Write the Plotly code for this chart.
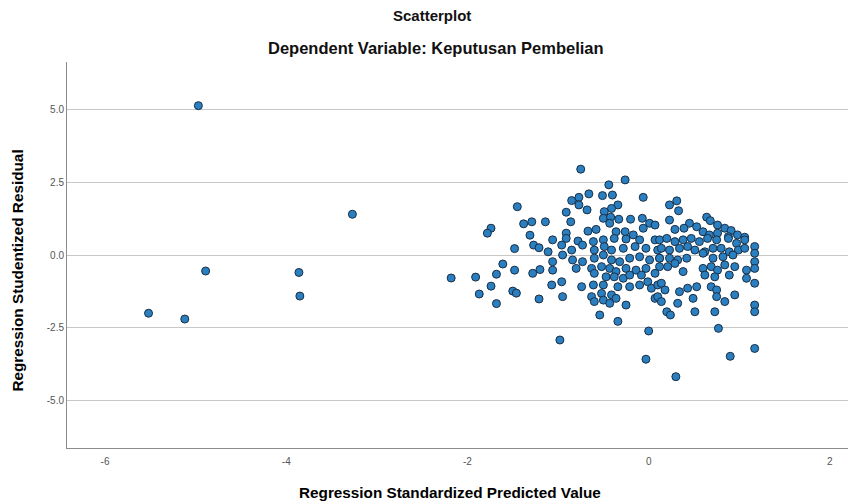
import plotly.graph_objects as go

# Outlying cases (Regression Standardized Predicted Value, Regression Studentized Residual)
outlier_pred = [-4.97, -3.27, -4.89, -3.86, -3.85, -5.52, -5.12]
outlier_resid = [5.13, 1.40, -0.55, -0.60, -1.41, -2.00, -2.20]

# Left tail of the main cloud
left_pred = [-1.45, -1.74, -1.78, -1.38, -1.29, -1.31, -1.48, -1.27, -1.21, -1.61, -2.18,
             -1.91, -1.68, -1.48, -1.28, -1.20, -1.87, -1.74, -1.68, -1.50, -1.46, -1.21]
left_resid = [1.66, 0.92, 0.75, 1.07, 1.14, 0.68, 0.22, 0.34, 0.25, -0.31, -0.79,
              -0.76, -0.66, -0.52, -0.63, -0.50, -1.34, -1.07, -1.67, -1.24, -1.31, -1.51]

# Upper part of the main cloud
upper_pred = [-0.75, -0.26, -0.44, -0.06, -0.66, -0.51, -0.40, -0.77, -0.85, -0.77, -0.91,
              -0.68, -0.86, -1.14, -0.34, -0.41, -0.49, -0.50, -0.42, -0.43, -0.33, -0.20,
              -0.07, 0.01, 0.07, -0.67, -0.58, -0.91, -0.36, -0.26, -0.17, -0.06,
              0.23, 0.31, 0.33, 0.23, 0.64, 0.68, 0.76, 0.84, 0.91, 0.98, 0.45, 0.53,
              0.39, 0.29, 0.60, 0.67, 0.76, 0.88, 1.06]
upper_resid = [2.95, 2.58, 2.41, 1.98, 2.10, 2.04, 2.06, 1.98, 1.87, 1.72, 1.47,
               1.55, 1.14, 1.14, 1.72, 1.60, 1.49, 1.26, 1.30, 1.09, 1.23, 1.23,
               1.26, 1.09, 1.03, 0.82, 0.88, 0.75, 0.80, 0.80, 0.69, 0.92,
               1.72, 1.86, 1.52, 1.20, 1.30, 1.18, 1.03, 0.92, 0.84, 0.69, 1.09, 0.97,
               0.92, 0.88, 0.80, 0.69, 0.75, 0.63, 0.61]

# Centre of the main cloud, left half
mid_left_pred = [-1.06, -0.91, -0.78, -0.61, -0.50, -0.38, -0.25, -0.10, 0.07,
                 -1.11, -0.96, -0.85, -0.73, -0.60, -0.49, -0.41, -0.28, -0.15, -0.03, 0.10,
                 -1.06, -0.95, -0.84, -0.73, -0.60, -0.50, -0.41, -0.32, -0.21, -0.10, 0.01, 0.12,
                 -1.06, -0.80, -0.63, -0.52, -0.43, -0.36, -0.25, -0.14, -0.03, 0.07,
                 -0.60, -0.47, -0.38, -0.28, -0.21, -0.08, -0.01,
                 -1.07, -0.96, -0.74, -0.61, -0.50, -0.34, -0.21, -0.10, 0.03, 0.10,
                 -0.95, -0.63, -0.52, -0.41, -0.36,
                 -0.60, -0.50, -0.43, -0.25, 0.07, -0.54]
mid_left_resid = [0.52, 0.57, 0.48, 0.46, 0.52, 0.57, 0.55, 0.52, 0.52,
                  0.11, 0.34, 0.17, 0.34, 0.17, 0.29, 0.17, 0.23, 0.29, 0.23, 0.17,
                  -0.23, 0.00, -0.17, -0.23, -0.11, 0.00, -0.17, -0.23, -0.11, -0.06, -0.17, -0.11,
                  -0.52, -0.46, -0.46, -0.40, -0.46, -0.57, -0.46, -0.52, -0.46, -0.63,
                  -0.63, -0.75, -0.75, -0.80, -0.69, -0.69, -0.92,
                  -1.03, -0.92, -1.09, -1.03, -1.03, -1.09, -1.09, -1.03, -1.14, -1.03,
                  -1.43, -1.43, -1.32, -1.37, -1.49,
                  -1.60, -1.55, -1.66, -1.72, -1.49, -2.06]

# Centre of the main cloud, right half
mid_right_pred = [0.12, 0.20, 0.29, 0.38, 0.47, 0.56, 0.65, 0.75, 0.88, 0.97, 1.06, 1.17,
                  0.14, 0.23, 0.34, 0.43, 0.51, 0.62, 0.71, 0.80, 0.89, 0.99, 1.06, 1.17,
                  0.12, 0.23, 0.32, 0.42, 0.60, 0.71, 0.82, 0.93, 1.17,
                  0.12, 0.21, 0.29, 0.38, 0.60, 0.62, 0.69, 0.76, 0.84, 0.95, 1.08, 1.17,
                  0.73, 0.89, 1.08,
                  0.14, 0.18, 0.10, 0.34, 0.43, 0.53, 0.69, 0.75, 0.75, 0.95, 0.84, 1.17,
                  0.49, 0.32, 0.14,
                  1.17, 1.17, 0.51, 0.73, 0.20]
mid_right_resid = [0.52, 0.57, 0.46, 0.52, 0.57, 0.46, 0.57, 0.52, 0.57, 0.40, 0.52, 0.29,
                   0.23, 0.17, 0.23, 0.29, 0.17, 0.11, 0.23, 0.23, 0.11, 0.17, 0.23, 0.06,
                   -0.11, -0.11, -0.17, -0.11, 0.06, -0.11, -0.06, 0.00, -0.23,
                   -0.40, -0.40, -0.29, -0.57, -0.46, -0.69, -0.40, -0.52, -0.34, -0.40, -0.52, -0.46,
                   -0.75, -0.69, -0.80,
                   -0.97, -1.20, -1.43, -1.26, -1.14, -1.09, -1.09, -1.20, -1.43, -1.37, -1.60, -0.97,
                   -1.49, -1.66, -1.60,
                   -1.72, -1.95, -1.95, -1.95, -1.95]

# Lower tail of the main cloud
lower_pred = [-0.34, 0.00, -0.03, 0.30, 0.77, 0.90, 1.17, 0.24, -0.98]
lower_resid = [-2.28, -2.61, -3.58, -4.18, -2.52, -3.48, -3.21, -2.06, -2.92]

y_tick_vals = [5.0, 2.5, 0.0, -2.5, -5.0]
y_tick_text = ["5.0", "2.5", "0.0", "-2.5", "-5.0"]
x_tick_vals = [-6, -4, -2, 0, 2]
x_tick_text = ["-6", "-4", "-2", "0", "2"]

pred = outlier_pred + left_pred + upper_pred + mid_left_pred + mid_right_pred + lower_pred
resid = outlier_resid + left_resid + upper_resid + mid_left_resid + mid_right_resid + lower_resid

fig = go.Figure()
fig.add_trace(go.Scatter(
    x=pred, y=resid, mode="markers",
    marker=dict(size=8, color="#2a7fc1", line=dict(color="#1a2e44", width=1)),
    hoverinfo="x+y", showlegend=False,
))

FONT = "Liberation Sans, Arial, sans-serif"

fig.update_layout(
    width=859, height=503,
    margin=dict(l=67, r=11, t=62, b=55),
    paper_bgcolor="white", plot_bgcolor="white",
    font=dict(family=FONT, color="#000000"),
    xaxis=dict(range=[-6.42, 2.2], tickvals=x_tick_vals, ticktext=x_tick_text,
               showgrid=False, zeroline=False, showline=True, linecolor="#8c8c8c",
               linewidth=1, ticks="outside", ticklen=4, tickcolor="white",
               tickfont=dict(size=10, color="#555555")),
    yaxis=dict(range=[-6.63, 6.63], tickvals=y_tick_vals, ticktext=y_tick_text,
               showgrid=True, gridcolor="#c8c8c8", gridwidth=1, zeroline=False,
               showline=True, linecolor="#8c8c8c", linewidth=1, ticks="",
               tickfont=dict(size=10, color="#555555")),
    annotations=[
        dict(text="<b>Scatterplot</b>", xref="paper", yref="paper", x=0.467, y=1.121,
             xanchor="center", yanchor="middle", showarrow=False,
             font=dict(size=15, color="#111111")),
        dict(text="<b>Dependent Variable: Keputusan Pembelian</b>", xref="paper", yref="paper",
             x=0.472, y=1.037, xanchor="center", yanchor="middle", showarrow=False,
             font=dict(size=16.5, color="#111111")),
        dict(text="<b>Regression Studentized Residual</b>", xref="paper", yref="paper",
             x=-0.063, y=0.459, textangle=-90, xanchor="center", yanchor="middle",
             showarrow=False, font=dict(size=15.3, color="#000000")),
        dict(text="<b>Regression Standardized Predicted Value</b>", xref="paper", yref="paper",
             x=0.49, y=-0.114, xanchor="center", yanchor="middle", showarrow=False,
             font=dict(size=15.3, color="#000000")),
    ],
)

# remove the browser's default 8px page margin so the figure sits at the window corner
fig.write_html("out.html", config={"displayModeBar": False},
               post_script="document.body.style.margin='0';")
